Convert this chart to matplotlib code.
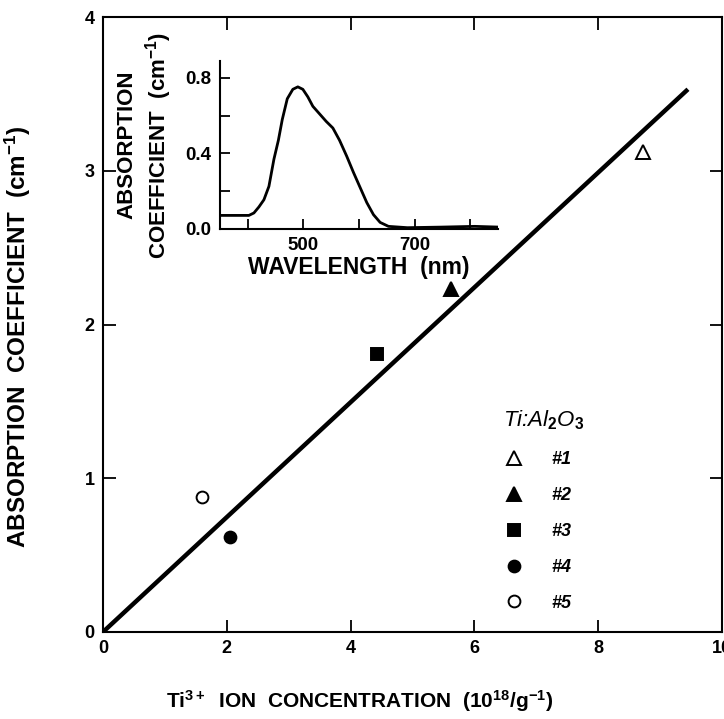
import numpy as np
import matplotlib
matplotlib.use("Agg")
import matplotlib.pyplot as plt
from matplotlib.lines import Line2D

plt.rcParams["font.family"] = "Liberation Sans"
plt.rcParams["font.weight"] = "bold"
plt.rcParams["axes.labelweight"] = "bold"
plt.rcParams["mathtext.fontset"] = "custom"
plt.rcParams["mathtext.rm"] = "Liberation Sans:bold"
plt.rcParams["mathtext.it"] = "Liberation Sans:bold:italic"
plt.rcParams["mathtext.default"] = "rm"

# main data: Ti3+ concentration vs absorption coefficient
samples = ["#1", "#2", "#3", "#4", "#5"]
conc = [8.72, 5.62, 4.43, 2.05, 1.60]
absorb = [3.12, 2.23, 1.81, 0.62, 0.88]
markers = ["^", "^", "s", "o", "o"]
filled = [False, True, True, True, False]

# fitted line
fit_x = [0.0, 9.45]
fit_y = [0.0, 3.53]

# inset absorption spectrum
wl = [350, 402, 411, 420, 429, 438, 447, 455, 462, 471, 481, 490, 499, 508, 517,
      529, 541, 553, 565, 578, 590, 602, 614, 626, 638, 653, 687, 747, 808, 853]
spec = [0.072, 0.072, 0.085, 0.117, 0.155, 0.226, 0.37, 0.47, 0.58, 0.69, 0.74,
        0.753, 0.74, 0.70, 0.65, 0.61, 0.57, 0.535, 0.47, 0.385, 0.30, 0.22, 0.14,
        0.076, 0.035, 0.014, 0.007, 0.01, 0.014, 0.01]

fig = plt.figure(figsize=(7.24, 7.19), dpi=100)
ax = fig.add_axes([103 / 724, 1 - 632 / 719, 619 / 724, 615 / 719])

ax.plot(fit_x, fit_y, color="black", lw=3.2, solid_capstyle="butt", zorder=2)
for x, y, m, f in zip(conc, absorb, markers, filled):
    ms = 9 if m == "s" else (10 if m == "^" else 8.5)
    ax.plot(x, y, marker=m, ms=ms, color="black",
            mfc="black" if f else "white", mew=1.4, ls="none", zorder=3)

ax.set_xlim(0, 10)
ax.set_ylim(0, 4)
ax.set_xticks([0, 2, 4, 6, 8, 10])
ax.set_yticks([0, 1, 2, 3, 4])
ax.tick_params(direction="in", length=9, width=1.3, labelsize=13,
               top=True, right=True, pad=6)
for s in ax.spines.values():
    s.set_linewidth(1.5)
ax.set_xlabel(r"Ti$^{3+}$  ION  CONCENTRATION  (10$^{18}$/g$^{-1}$)", fontsize=15)
ax.xaxis.set_label_coords(0.415, -0.092)
ax.set_ylabel(r"ABSORPTION  COEFFICIENT  (cm$^{-1}$)", fontsize=17.5)
ax.yaxis.set_label_coords(-0.113, 0.48)

# legend
handles = []
for m, f in zip(markers, filled):
    ms = 9 if m == "s" else (10 if m == "^" else 8.5)
    handles.append(Line2D([], [], marker=m, ms=ms, color="black",
                          mfc="black" if f else "white", mew=1.4, ls="none"))
leg = ax.legend(handles, samples, title=r"Ti:Al$_\mathit{2}$O$_\mathit{3}$",
                frameon=False, loc="upper left", bbox_to_anchor=(0.62, 0.39),
                prop={"size": 13, "weight": "bold", "style": "italic"},
                labelspacing=1.05, handletextpad=1.5, handlelength=1.2,
                alignment="left",
                title_fontproperties={"size": 16, "style": "italic", "weight": "normal"})

# inset
ins = fig.add_axes([220 / 724, 1 - 229 / 719, 278 / 724, 168 / 719])
ins.plot(wl, spec, color="black", lw=2)
ins.set_xlim(350, 850)
ins.set_ylim(0, 0.89)
ins.set_xticks([400, 500, 600, 700, 800])
ins.set_xticklabels(["", "500", "", "700", ""])
ins.set_yticks([0, 0.2, 0.4, 0.6, 0.8])
ins.set_yticklabels(["0.0", "", "0.4", "", "0.8"])
ins.spines["top"].set_visible(False)
ins.spines["right"].set_visible(False)
for s in ["left", "bottom"]:
    ins.spines[s].set_linewidth(1.5)
ins.tick_params(direction="in", length=7, width=1.3, labelsize=13.5, pad=6)
ins.set_xlabel("WAVELENGTH  (nm)", fontsize=16.5, labelpad=1)
ins.set_ylabel("ABSORPTION\n" + r"COEFFICIENT  (cm$^{-1}$)", fontsize=16,
               labelpad=8, linespacing=1.25)

fig.savefig("out.png", dpi=100)
